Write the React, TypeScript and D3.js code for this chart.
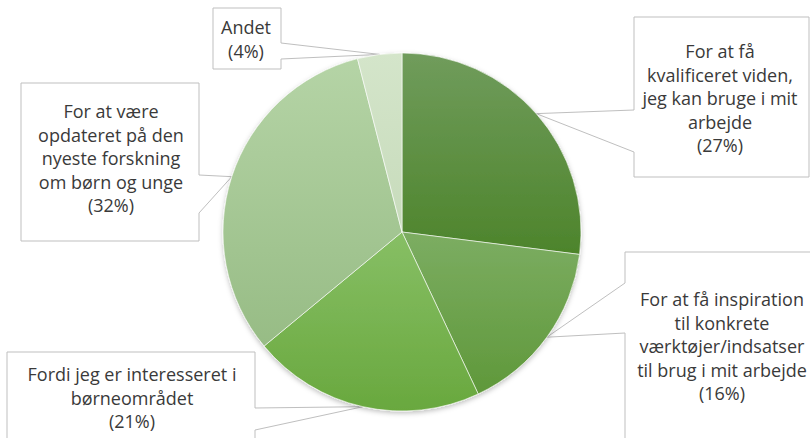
import { pie, arc } from "d3";

const labels = [
  ["For at få", "kvalificeret viden,", "jeg kan bruge i mit", "arbejde"],
  ["For at få inspiration", "til konkrete", "værktøjer/indsatser", "til brug i mit arbejde"],
  ["Fordi jeg er interesseret i", "børneområdet"],
  ["For at være", "opdateret på den", "nyeste forskning", "om børn og unge"],
  ["Andet"],
];
const shares = [27, 16, 21, 32, 4];
const topColors = ["#709c5c", "#7cad62", "#87bf65", "#b5d4a6", "#d4e5ca"];
const bottomColors = ["#4d842b", "#5f983a", "#69a83e", "#97bc85", "#c7dbbb"];

// callout boxes: rect, side the pointer leaves from, pointer base span, text anchor
const boxes = [
  { x: 634, y: 17, w: 175, h: 160, side: "left", b0: 110, b1: 152, tx: 720, ty: 58 },
  { x: 625, y: 252, w: 220, h: 220, side: "left", b0: 283, b1: 333, tx: 722, ty: 306 },
  { x: 7, y: 352, w: 248, h: 110, side: "right", b0: 408, b1: 430, tx: 132, ty: 381 },
  { x: 21, y: 83, w: 178, h: 158, side: "right", b0: 175, b1: 213, tx: 111, ty: 118 },
  { x: 213, y: 8, w: 68, h: 61, side: "right", b0: 43, b1: 59, tx: 246, ty: 34 },
];

const CX = 402, CY = 232, R = 179, LH = 23.5;

export default function App() {
  const arcs = pie<number>().sort(null).value(d => d)(shares);
  const arcGen = arc<any>().innerRadius(0).outerRadius(R);
  const tipGen = arc<any>().innerRadius(R).outerRadius(R);
  return (
    <svg width={810} height={438} style={{ position: "absolute", left: 0, top: 0 }}
      fontFamily="'Open Sans', Lato, sans-serif">
      <defs>
        {arcs.map((_, i) => (
          <linearGradient key={i} id={`g${i}`} x1="0" y1="0" x2="0" y2="1">
            <stop offset="0" stopColor={topColors[i]} />
            <stop offset="1" stopColor={bottomColors[i]} />
          </linearGradient>
        ))}
        <filter id="sh" x="-10%" y="-10%" width="120%" height="125%">
          <feDropShadow dx="0" dy="2" stdDeviation="2.5" floodColor="#000" floodOpacity="0.25" />
        </filter>
      </defs>
      {boxes.map((b, i) => {
        const [tx, ty] = tipGen.centroid(arcs[i]);
        const tip = `${CX + tx},${CY + ty}`;
        const L = b.x, T = b.y, Rt = b.x + b.w, B = b.y + b.h;
        const d = b.side === "left"
          ? `M${L},${T}L${Rt},${T}L${Rt},${B}L${L},${B}L${L},${b.b1}L${tip}L${L},${b.b0}Z`
          : `M${L},${T}L${Rt},${T}L${Rt},${b.b0}L${tip}L${Rt},${b.b1}L${Rt},${B}L${L},${B}Z`;
        const lines = [...labels[i], `(${shares[i]}%)`];
        return (
          <g key={i}>
            <path d={d} fill="#fff" stroke="#bfbfbf" strokeWidth={1} />
            {lines.map((t, j) => (
              <text key={j} x={b.tx} y={b.ty + j * LH} textAnchor="middle" fontSize={18} fill="#3a3a3a">{t}</text>
            ))}
          </g>
        );
      })}
      <g transform={`translate(${CX},${CY})`} filter="url(#sh)">
        {arcs.map((a, i) => (
          <path key={i} d={arcGen(a) ?? ""} fill={`url(#g${i})`} stroke="#ffffff" strokeOpacity={0.6} strokeWidth={1} />
        ))}
      </g>
    </svg>
  );
}
